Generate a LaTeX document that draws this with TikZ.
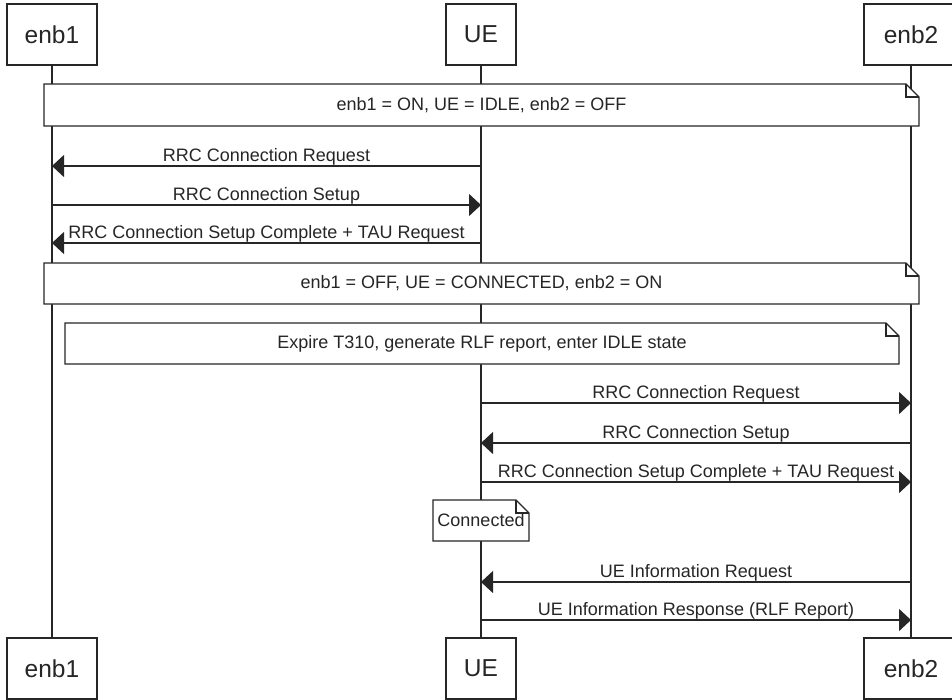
\documentclass[tikz,border=0pt]{standalone}
\usepackage{fontspec}
\setmainfont{Liberation Sans}
\usetikzlibrary{arrows.meta}

% note with a folded corner: name, x1, y1, x2, y2, text
\newcommand{\seqnote}[6]{%
  \filldraw[fill=white] (#2,#3) -- ({#4-13},#3) -- (#4,{#3+13}) -- (#4,#5) -- (#2,#5) -- cycle;
  \draw ({#4-13},#3) -- ({#4-13},{#3+13}) -- (#4,{#3+13});
  \node[lbl] (#1) at ({(#2+#4)/2},{(#3+#5)/2}) {#6};}

\begin{document}
\begin{tikzpicture}[x=1pt, y=-1pt, line width=1.2pt, color=black!85,
    actor/.style={draw, fill=white, minimum height=61pt, font=\fontsize{24.5}{29}\selectfont},
    msg/.style={-{Triangle[length=12pt,width=22pt]}},
    lbl/.style={font=\fontsize{18}{21}\selectfont},
    msglbl/.style={lbl, anchor=base, yshift=4.5pt}]
    \useasboundingbox (0,0) rectangle (952,699);

    \node[actor, minimum width=90pt] (enbA) at (52,34.5) {enb1};
    \node[actor, minimum width=70pt] (ue) at (481,34.5) {UE};
    \node[actor, minimum width=94pt] (enbB) at (911,34.5) {enb2};
    \node[actor, minimum width=90pt] (enbAb) at (52,668.5) {enb1};
    \node[actor, minimum width=70pt] (ueb) at (481,668.5) {UE};
    \node[actor, minimum width=94pt] (enbBb) at (911,668.5) {enb2};

    % lifelines
    \draw (enbA) -- (enbAb);
    \draw (ue) -- (ueb);
    \draw (enbB) -- (enbBb);

    \foreach \i/\y in {1/166, 2/205, 3/243, 4/403, 5/443, 6/482, 7/582, 8/620} {
        \coordinate (a\i) at (enbA |- 0,\y);
        \coordinate (u\i) at (ue |- 0,\y);
        \coordinate (b\i) at (enbB |- 0,\y);
    }

    \seqnote{n1}{44}{84}{919}{126}{enb1 = ON, UE = IDLE, enb2 = OFF}
    \draw[msg] (u1) -- node[msglbl] {RRC Connection Request} (a1);
    \draw[msg] (a2) -- node[msglbl] {RRC Connection Setup} (u2);
    \draw[msg] (u3) -- node[msglbl] {RRC Connection Setup Complete + TAU Request} (a3);
    \seqnote{n2}{44}{263}{919}{304}{enb1 = OFF, UE = CONNECTED, enb2 = ON}
    \seqnote{n3}{65}{323}{899}{364}{Expire T310, generate RLF report, enter IDLE state}
    \draw[msg] (u4) -- node[msglbl] {RRC Connection Request} (b4);
    \draw[msg] (b5) -- node[msglbl] {RRC Connection Setup} (u5);
    \draw[msg] (u6) -- node[msglbl] {RRC Connection Setup Complete + TAU Request} (b6);
    \seqnote{n4}{433}{500}{529}{541}{Connected}
    \draw[msg] (b7) -- node[msglbl] {UE Information Request} (u7);
    \draw[msg] (u8) -- node[msglbl] {UE Information Response (RLF Report)} (b8);
\end{tikzpicture}
\end{document}
